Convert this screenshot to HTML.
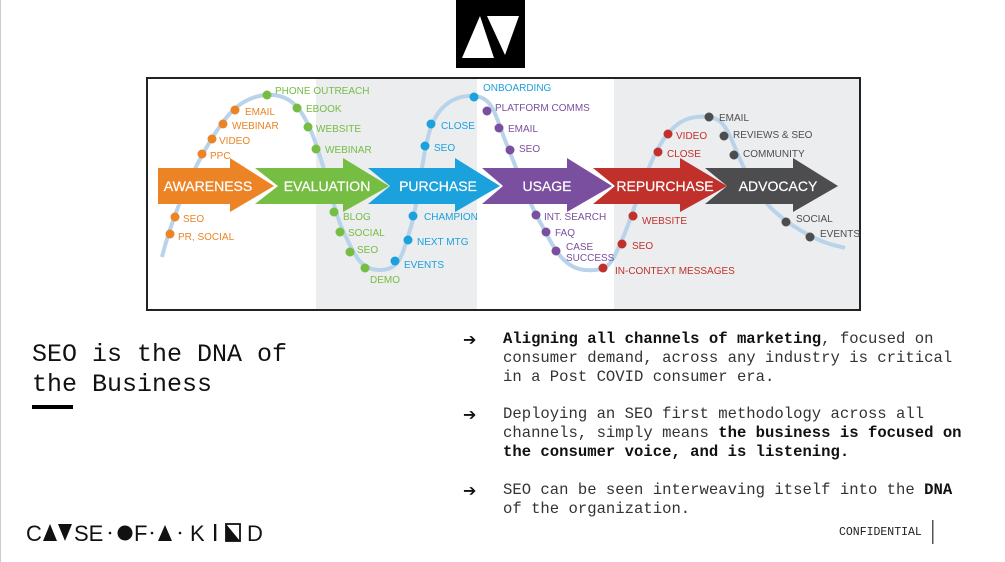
<!DOCTYPE html>
<html><head><meta charset="utf-8"><style>
body{margin:0;width:1005px;height:562px;background:#fff;position:relative;overflow:hidden;font-family:"Liberation Mono",monospace}
.a{position:absolute}
.t{font-size:25px;line-height:30px;color:#111;left:32px;top:340px;white-space:pre}
.b{font-size:15.6px;line-height:19px;color:#333;left:503px;white-space:pre}
.ar{left:463px;font-size:16px;color:#111;font-family:"DejaVu Sans",sans-serif}
b{color:#111}
</style></head><body>
<div class="a" style="left:0;top:0;width:1px;height:562px;background:#ccc"></div>
<svg class="a" style="left:0;top:0" width="1005" height="562">
<rect x="456" y="0" width="69" height="68" fill="#000"/>
<polygon points="462,58 480,16 494,58" fill="#fff"/>
<polygon points="487,16 519,16 505,55" fill="#fff"/>
<rect x="147" y="78" width="713" height="232" fill="#fff" stroke="#222" stroke-width="2"/>
<rect x="316" y="79" width="161" height="230" fill="#ebedef"/>
<rect x="614" y="79" width="245" height="230" fill="#ebedef"/>
<path d="M162,257 C170,225 185,185 205,150 S240,97 266,95 S305,110 318,150 S335,215 345,235 S360,270 380,270 S402,255 410,230 S422,155 430,130 S455,95 474,96 S495,115 505,140 S530,205 540,222 S560,268 585,270 S612,262 622,240 S645,170 660,145 S690,115 709,117 S730,140 745,170 S775,215 800,230 S835,245 845,248" fill="none" stroke="#b9d3ea" stroke-width="4"/>
<g font-family="Liberation Sans Narrow,Liberation Sans,sans-serif" font-size="14" fill="#fff" text-anchor="middle" stroke="#fff" stroke-width="0.2">
<polygon points="158,168 230,168 230,158 274,186 230,212 230,204 158,204" fill="#ec8325" stroke="none"/>
<polygon points="255,168 343,168 343,158 389,186 343,212 343,204 255,204 278,186" fill="#76bd43" stroke="none"/>
<polygon points="368,168 455,168 455,158 500,186 455,212 455,204 368,204 390,186" fill="#1ba1dc" stroke="none"/>
<polygon points="482,168 567,168 567,158 612,186 567,212 567,204 482,204 503,186" fill="#7b4f9f" stroke="none"/>
<polygon points="593,168 680,168 680,158 727,186 680,212 680,204 593,204 615,186" fill="#c0312b" stroke="none"/>
<polygon points="705,168 793,168 793,158 838,186 793,212 793,204 705,204 727,186" fill="#4d4d4f" stroke="none"/>
<text x="208" y="191">AWARENESS</text><text x="327" y="191">EVALUATION</text><text x="438" y="191">PURCHASE</text><text x="547" y="191">USAGE</text><text x="665" y="191">REPURCHASE</text><text x="778" y="191">ADVOCACY</text>
</g>
<g font-family="Liberation Sans Narrow,Liberation Sans,sans-serif" font-size="10">
<g fill="#ec8325"><circle cx="235" cy="110" r="4.5"/><circle cx="223" cy="124" r="4.5"/><circle cx="212" cy="139" r="4.5"/><circle cx="202" cy="154" r="4.5"/><circle cx="175" cy="217" r="4.5"/><circle cx="170" cy="234" r="4.5"/>
<text x="245" y="115">EMAIL</text><text x="232" y="129">WEBINAR</text><text x="219" y="144">VIDEO</text><text x="210" y="159">PPC</text><text x="183" y="222">SEO</text><text x="178" y="240">PR, SOCIAL</text></g>
<g fill="#76bd43"><circle cx="267" cy="95" r="4.5"/><circle cx="297" cy="108" r="4.5"/><circle cx="308" cy="127" r="4.5"/><circle cx="316" cy="149" r="4.5"/><circle cx="334" cy="212" r="4.5"/><circle cx="340" cy="232" r="4.5"/><circle cx="350" cy="252" r="4.5"/><circle cx="365" cy="268" r="4.5"/>
<text x="275" y="94">PHONE OUTREACH</text><text x="306" y="112">EBOOK</text><text x="316" y="132">WEBSITE</text><text x="325" y="153">WEBINAR</text><text x="343" y="220">BLOG</text><text x="348" y="236">SOCIAL</text><text x="357" y="253">SEO</text><text x="370" y="283">DEMO</text></g>
<g fill="#1ba1dc"><circle cx="474" cy="97" r="4.5"/><circle cx="431" cy="124" r="4.5"/><circle cx="425" cy="146" r="4.5"/><circle cx="413" cy="216" r="4.5"/><circle cx="408" cy="240" r="4.5"/><circle cx="395" cy="261" r="4.5"/>
<text x="483" y="91">ONBOARDING</text><text x="441" y="129">CLOSE</text><text x="434" y="151">SEO</text><text x="424" y="220">CHAMPION</text><text x="417" y="245">NEXT MTG</text><text x="404" y="268">EVENTS</text></g>
<g fill="#7b4f9f"><circle cx="487" cy="111" r="4.5"/><circle cx="499" cy="128" r="4.5"/><circle cx="510" cy="150" r="4.5"/><circle cx="536" cy="215" r="4.5"/><circle cx="546" cy="232" r="4.5"/><circle cx="556" cy="251" r="4.5"/>
<text x="495" y="111">PLATFORM COMMS</text><text x="508" y="132">EMAIL</text><text x="519" y="152">SEO</text><text x="544" y="220">INT. SEARCH</text><text x="555" y="236">FAQ</text><text x="566" y="250">CASE</text><text x="566" y="261">SUCCESS</text></g>
<g fill="#c0312b"><circle cx="668" cy="134" r="4.5"/><circle cx="658" cy="152" r="4.5"/><circle cx="633" cy="216" r="4.5"/><circle cx="622" cy="244" r="4.5"/><circle cx="603" cy="268" r="4.5"/>
<text x="676" y="139">VIDEO</text><text x="667" y="157">CLOSE</text><text x="642" y="224">WEBSITE</text><text x="632" y="249">SEO</text><text x="615" y="274">IN-CONTEXT MESSAGES</text></g>
<g fill="#4d4d4f"><circle cx="709" cy="117" r="4.5"/><circle cx="724" cy="136" r="4.5"/><circle cx="734" cy="155" r="4.5"/><circle cx="786" cy="222" r="4.5"/><circle cx="810" cy="237" r="4.5"/>
<text x="719" y="121">EMAIL</text><text x="733" y="138">REVIEWS &amp; SEO</text><text x="743" y="157">COMMUNITY</text><text x="796" y="222">SOCIAL</text><text x="820" y="237">EVENTS</text></g>
</g>
<rect x="32" y="405" width="41" height="4" fill="#000"/>
<g font-family="Liberation Sans,sans-serif" font-size="22" fill="#111">
<text x="26" y="541">C</text><polygon points="43,541 50,524 57,541" fill="#111"/><polygon points="58,524 72,524 65,541" fill="#111"/><text x="74" y="541">SE</text>
<circle cx="110" cy="533" r="1.3"/><circle cx="125" cy="533" r="7.5"/><text x="134" y="541">F</text><circle cx="152" cy="533" r="1.3"/><polygon points="158,541 165,525 172,541" fill="#111"/><circle cx="180" cy="533" r="1.3"/>
<text x="190" y="541">K</text><rect x="214" y="524" width="2.3" height="17"/><polygon points="226,524 240,541 226,541" fill="#111"/><rect x="226" y="524" width="14" height="17" fill="none" stroke="#111" stroke-width="1.8"/><text x="247" y="541">D</text>
</g>
<rect x="932" y="520" width="1.5" height="24" fill="#555"/>
</svg>
<div class="a t">SEO is the DNA of
the Business</div>
<div class="a ar" style="top:330px">➔</div>
<div class="a ar" style="top:405px">➔</div>
<div class="a ar" style="top:481px">➔</div>
<div class="a b" style="top:330px"><b>Aligning all channels of marketing</b>, focused on
consumer demand, across any industry is critical
in a Post COVID consumer era.</div>
<div class="a b" style="top:405px">Deploying an SEO first methodology across all
channels, simply means <b>the business is focused on
the consumer voice, and is listening.</b></div>
<div class="a b" style="top:481px">SEO can be seen interweaving itself into the <b>DNA</b>
of the organization.</div>
<div class="a" style="left:839px;top:526px;font-size:11.5px;color:#222">CONFIDENTIAL</div>
</body></html>
